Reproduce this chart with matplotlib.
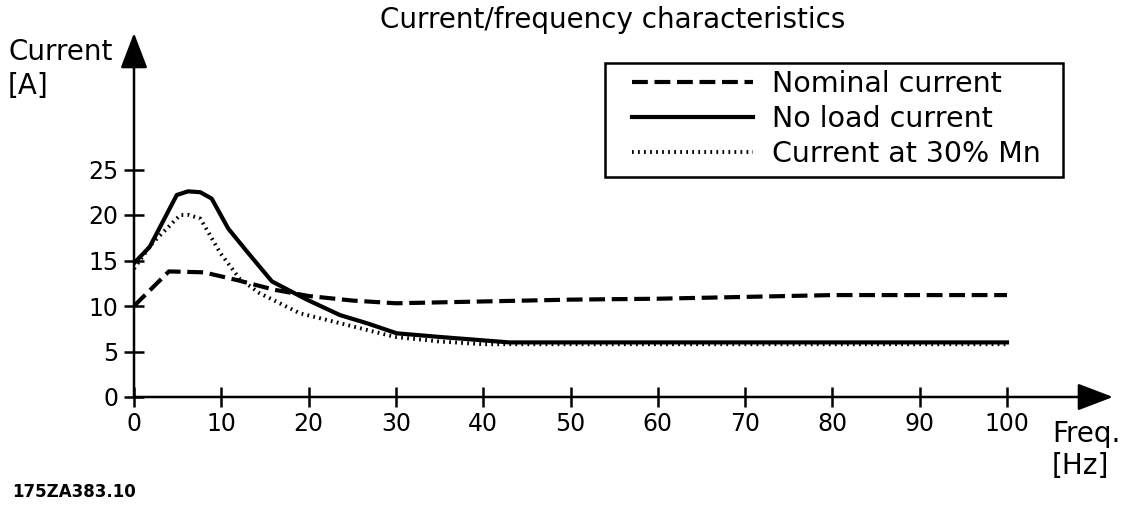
import matplotlib
matplotlib.use('Agg')
import matplotlib.pyplot as plt
from matplotlib.lines import Line2D
from matplotlib.patches import Rectangle

# data
freq_nominal = [0, 4, 8, 12, 16, 20, 25, 30, 40, 50, 60, 70, 80, 90, 100]
nominal = [10.0, 13.8, 13.7, 12.8, 11.8, 11.1, 10.6, 10.3, 10.5, 10.7, 10.8, 11.0, 11.2, 11.2, 11.2]

freq_noload = [0, 1.8, 4.9, 6.2, 7.6, 8.9, 10.8, 13.1, 15.8, 19.8, 23.6, 26.7, 30.1, 35, 43, 50, 70, 100]
noload = [14.7, 16.5, 22.2, 22.6, 22.5, 21.8, 18.5, 15.8, 12.7, 10.7, 9.0, 8.1, 7.0, 6.6, 6.0, 6.0, 6.0, 6.0]

freq_30 = [0, 2, 5.3, 6.3, 7.6, 9.9, 12.1, 14.4, 19.0, 22.8, 29.9, 35, 40, 50, 70, 100]
current_30 = [14.1, 16.8, 20.0, 20.0, 19.6, 15.8, 13.0, 11.4, 9.2, 8.3, 6.6, 6.1, 5.8, 5.8, 5.8, 5.8]

labels = ['Nominal current', 'No load current', 'Current at 30% Mn']
xticks = list(range(0, 101, 10))
yticks = list(range(0, 26, 5))

W, H = 1127, 505
fs = 20      # labels, title
fs_leg = 20.5
fs_tick = 17

fig = plt.figure(figsize=(W / 100, H / 100), dpi=100)
# axes from origin (134, 397) to arrow tips (1113, 33) in pixels
ax = fig.add_axes([134 / W, 1 - 397 / H, (1113 - 134) / W, (397 - 33) / H])
ax.set_xlim(0, (1113 - 134) / 8.73)
ax.set_ylim(0, (397 - 33) / 9.1)
for s in ax.spines.values():
    s.set_visible(False)

dash = (0, (3.8, 1.6))
dots = (0, (0.45, 1.1))
ax.plot(freq_nominal, nominal, color='black', lw=3, linestyle=dash)
ax.plot(freq_noload, noload, color='black', lw=3, solid_joinstyle='round')
ax.plot(freq_30, current_30, color='black', lw=2.8, linestyle=dots)

# axes with arrow heads
arrow = dict(arrowstyle='-|>,head_length=1.1,head_width=0.42', mutation_scale=20,
             color='black', lw=1.8, shrinkA=0, shrinkB=0)
ax.annotate('', xy=(ax.get_xlim()[1], 0), xytext=(0, 0), arrowprops=arrow, annotation_clip=False)
ax.annotate('', xy=(0, ax.get_ylim()[1]), xytext=(0, 0), arrowprops=arrow, annotation_clip=False)

ax.set_xticks(xticks)
ax.set_yticks(yticks)
ax.tick_params(direction='inout', length=14, width=1.8, labelsize=fs_tick, pad=4)

# legend, frame drawn separately
handles = [Line2D([], [], color='black', lw=3, linestyle=dash),
           Line2D([], [], color='black', lw=3),
           Line2D([], [], color='black', lw=2.8, linestyle=dots)]
ax.legend(handles, labels, loc='upper left', bbox_to_anchor=(632 / W, 1 - 70 / H),
          bbox_transform=fig.transFigure, fontsize=fs_leg, handlelength=4.25,
          handletextpad=0.67, labelspacing=0.25, borderpad=0, borderaxespad=0, frameon=False)
fig.add_artist(Rectangle((605 / W, 1 - 177 / H), (1063 - 605) / W, (177 - 63) / H,
                         transform=fig.transFigure, fill=False, lw=1.8, edgecolor='black'))

fig.text(613 / W, 1 - 20 / H, 'Current/frequency characteristics', fontsize=fs, ha='center', va='center')
fig.text(8 / W, 1 - 52 / H, 'Current', fontsize=fs, ha='left', va='center')
fig.text(8 / W, 1 - 86 / H, '[A]', fontsize=fs, ha='left', va='center')
fig.text(1052 / W, 1 - 434 / H, 'Freq.', fontsize=fs, ha='left', va='center')
fig.text(1052 / W, 1 - 466 / H, '[Hz]', fontsize=fs, ha='left', va='center')
fig.text(12 / W, 1 - 492 / H, '175ZA383.10', fontsize=12, fontweight='bold', ha='left', va='center')

fig.savefig('out.png', dpi=100)
